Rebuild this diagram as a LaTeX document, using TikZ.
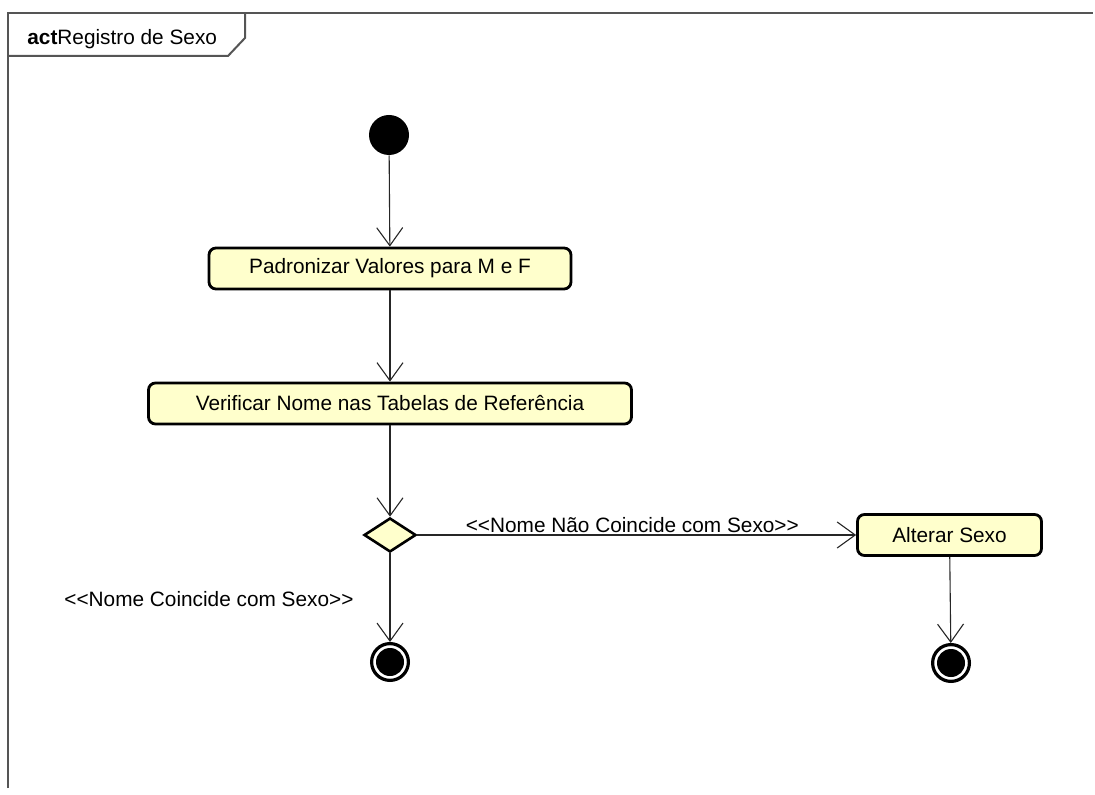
\documentclass[tikz,border=0pt]{standalone}
\usepackage{fontspec}
\setmainfont{Liberation Sans}
\usetikzlibrary{shapes.geometric,arrows.meta}
\definecolor{actfill}{RGB}{255,255,204}
\definecolor{framegray}{RGB}{85,85,85}

\begin{document}
\begin{tikzpicture}[x=0.5pt, y=-0.5pt, font=\fontsize{10.4}{12}\selectfont,
        flow/.style={draw=black!85, line width=0.55pt, -{Straight Barb[length=9pt, width=13pt, line width=0.55pt]}},
        action/.style={draw, line width=1.4pt, rounded corners=3.5pt, fill=actfill, minimum height=20.5pt, inner sep=0pt},
        decision/.style={diamond, draw, line width=1.3pt, fill=actfill, minimum width=26pt, minimum height=17pt, inner sep=0pt},
        initial/.style={circle, fill=black, minimum size=20pt, inner sep=0pt},
        final/.style={circle, draw, line width=1.6pt, fill=white, minimum size=18.4pt, inner sep=0pt,
            path picture={\fill[black] (path picture bounding box.center) circle (7pt);}},
        guard/.style={inner sep=1pt}]
    \useasboundingbox (0,0) rectangle (1095,795);
    % Frame and title tab
    \draw[framegray, line width=1pt] (8,788) -- (8,13) -- (1093,13);
    \draw[framegray, line width=1pt] (8,56) -- (228,56) -- (245,38) -- (245,13);
    \node[anchor=base west, inner sep=0pt] (titulo) at (27,45) {\textbf{act}Registro de Sexo};
    % Start node
    \node[initial] (inicio) at (389,135) {};
    % Actions
    \node[action, minimum width=181pt] (padronizar) at (390,268.5) {Padronizar Valores para M e F};
    \node[action, minimum width=241.5pt] (verificar) at (390,403.5) {Verificar Nome nas Tabelas de Referência};
    \node[decision] (decisao) at (390,535) {};
    \node[action, minimum width=92pt] (alterar) at (949.5,535) {Alterar Sexo};
    % Final nodes
    \node[final] (fim1) at (390,662) {};
    \node[final] (fim2) at (951,663) {};
    % Flows
    \draw[flow] (inicio) -- (padronizar);
    \draw[flow] (padronizar) -- (verificar);
    \draw[flow] (verificar) -- (decisao);
    \draw[flow] (decisao) -- node[guard, above, pos=0.49] {<{}<Nome Não Coincide com Sexo>{}>} (alterar);
    \draw[flow] (decisao) -- node[guard, left=17pt, pos=0.52] {<{}<Nome Coincide com Sexo>{}>} (fim1);
    \draw[flow] (alterar) -- (fim2);
\end{tikzpicture}
\end{document}
